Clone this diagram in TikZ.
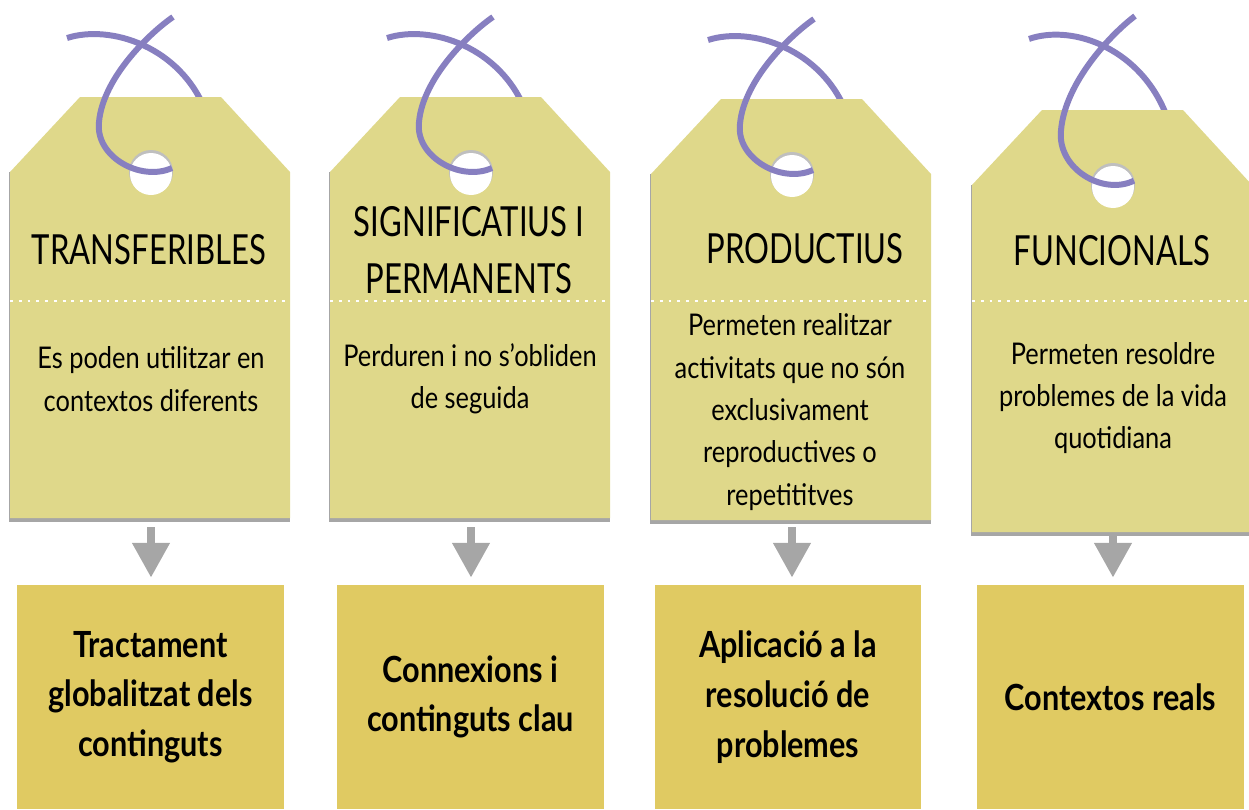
\documentclass[tikz,border=0pt]{standalone}
\usepackage{fontspec}
\setmainfont{Lato}[FakeStretch=0.75]
\newfontfamily\widerfont{Lato}[FakeStretch=0.85]
\usetikzlibrary{positioning,calc,arrows.meta}

\definecolor{tagfill}{RGB}{223,216,138}
\definecolor{boxfill}{RGB}{224,202,98}
\definecolor{cord}{RGB}{135,127,192}
\definecolor{arrowgray}{RGB}{166,166,166}

\begin{document}
\begin{tikzpicture}[x=0.02cm, y=-0.02cm,
  tagbody/.style={fill=tagfill},
  tagshade/.style={fill=black!35},
  perforation/.style={white, line width=1.6pt, dash pattern=on 1.6pt off 3.4pt},
  cordline/.style={cord, line width=3.4pt},
  tagtitle/.style={font=\fontsize{23.6}{32.3}\selectfont, align=center},
  tagtext/.style={font=\widerfont\fontsize{17}{24.1}\selectfont, align=center},
  resultbox/.style={fill=boxfill, minimum width=5.34cm, minimum height=4.48cm,
    font=\widerfont\bfseries\fontsize{20.5}{28.3}\selectfont, align=center},
  downarrow/.style={arrowgray, line width=4.5pt, shorten >=4pt,
    -{Triangle[width=20.4pt,length=19.8pt]}}
]
\useasboundingbox (0,0) rectangle (1249,809);

% the four tags: left / top / bottom / arrow start / string stretch / index
\foreach \l/\t/\b/\a/\s/\i in {10/97/518/527/1/1, 330/97/518/527/1/2, 651/99/520/527/1/3, 972/110/532/534/1.09/4}{
  \coordinate (hole\i) at (\l+141,\t+75);
  \coordinate (tagbot\i) at (\l+141,\a);
  % back of the string, behind the tag
  \begin{scope}[shift={(hole\i)}, yscale=\s]
    \draw[cordline] (-84,-134) .. controls (-40,-148) and (30,-125) .. (55,-60);
  \end{scope}
  \fill[tagshade] (\l-1,\t+75) rectangle (\l+280,\b+4);
  \fill[tagbody] (\l,\b) -- (\l,\t+75) -- (\l+70,\t) -- (\l+211,\t) -- (\l+280,\t+75) -- (\l+280,\b) -- cycle;
  \fill[black!25] (hole\i) circle (0.44cm);
  \fill[white] ($(hole\i)+(0,2)$) circle (0.42cm);
  \draw[perforation] (\l,301) -- (\l+280,301);
  % front of the string, through the hole
  \begin{scope}[shift={(hole\i)}, yscale=\s]
    \draw[cordline] (22,-155) .. controls (0,-140) and (-48,-95) .. (-52,-50)
      .. controls (-56,-15) and (-10,10) .. (21,-4);
  \end{scope}
}

\node[tagtitle] (title1) at (149,250) {TRANSFERIBLES};
\node[tagtitle] (title2) at (469,250) {SIGNIFICATIUS I\\PERMANENTS};
\node[tagtitle] (title3) at (805,249) {PRODUCTIUS};
\node[tagtitle] (title4) at (1112,251) {FUNCIONALS};

\node[tagtext] (text1) at (151,379) {Es poden utilitzar en\\contextos diferents};
\node[tagtext] (text2) at (470,379) {Perduren i no s’obliden\\de seguida};
\node[tagtext] (text3) at (790,412) {Permeten realitzar\\activitats que no són\\exclusivament\\reproductives o\\repetititves};
\node[tagtext] (text4) at (1113,398) {Permeten resoldre\\problemes de la vida\\quotidiana};

\node[resultbox] (box1) at (150.5,697) {Tractament\\globalitzat dels\\continguts};
\node[resultbox] (box2) at (470.5,697) {Connexions i\\continguts clau};
\node[resultbox] (box3) at (788,697) {Aplicació a la\\resolució de\\problemes};
\node[resultbox] (box4) at (1110.5,697) {Contextos reals};

\foreach \i in {1,...,4}
  \draw[downarrow] (tagbot\i) -- (tagbot\i |- box\i.north);
\end{tikzpicture}
\end{document}
